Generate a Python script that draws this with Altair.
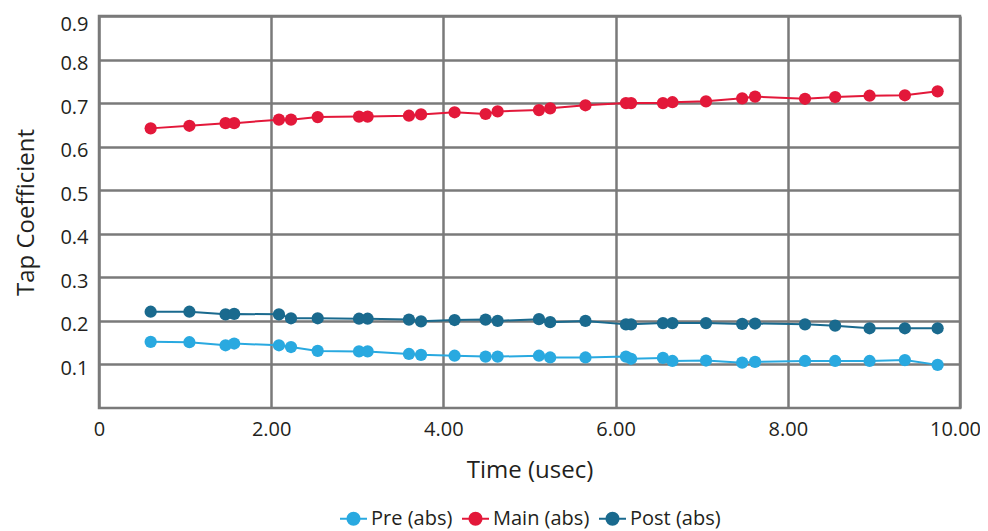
import altair as alt
import pandas as pd

series_names = ["Pre (abs)", "Main (abs)", "Post (abs)"]
series_colors = ["#29a9e0", "#e3183a", "#1a6a8e"]

time_usec = [0.60, 1.05, 1.47, 1.57, 2.09, 2.23, 2.54, 3.02, 3.12, 3.60,
             3.74, 4.13, 4.49, 4.63, 5.11, 5.24, 5.65, 6.12, 6.18, 6.55,
             6.66, 7.05, 7.47, 7.62, 8.20, 8.55, 8.95, 9.36, 9.74]
pre_abs = [0.152, 0.151, 0.144, 0.148, 0.144, 0.140, 0.131, 0.130, 0.130, 0.124,
           0.122, 0.120, 0.118, 0.118, 0.120, 0.116, 0.116, 0.118, 0.113, 0.115,
           0.108, 0.109, 0.104, 0.106, 0.108, 0.108, 0.108, 0.110, 0.099]
main_abs = [0.642, 0.648, 0.654, 0.654, 0.662, 0.662, 0.668, 0.669, 0.669, 0.671,
            0.674, 0.679, 0.675, 0.681, 0.684, 0.688, 0.695, 0.700, 0.700, 0.700,
            0.702, 0.704, 0.711, 0.715, 0.710, 0.714, 0.717, 0.718, 0.727]
post_abs = [0.221, 0.221, 0.215, 0.216, 0.215, 0.206, 0.206, 0.205, 0.205, 0.203,
            0.199, 0.202, 0.203, 0.200, 0.204, 0.197, 0.200, 0.192, 0.192, 0.195,
            0.195, 0.195, 0.193, 0.194, 0.192, 0.189, 0.183, 0.183, 0.183]

x_ticks = [0, 2, 4, 6, 8, 10]
y_ticks = [0.1, 0.2, 0.3, 0.4, 0.5, 0.6, 0.7, 0.8, 0.9]

rows = []
for name, vals in zip(series_names, [pre_abs, main_abs, post_abs]):
    for t, v in zip(time_usec, vals):
        rows.append({"series": name, "time": t, "value": v})
df = pd.DataFrame(rows)

FONT = "Open Sans"
TXT = "#231f20"
GRID = "#7a7a7a"

legend_symbol = ("M-1,0L1,0M0.45,0A0.45,0.45,0,1,1,-0.45,0"
                 "A0.45,0.45,0,1,1,0.45,0Z")

color = alt.Color(
    "series:N",
    scale=alt.Scale(domain=series_names, range=series_colors),
    legend=alt.Legend(
        title=None,
        orient="none",
        direction="horizontal",
        legendX=240,
        legendY=488,
        symbolType=legend_symbol,
        symbolSize=729,
        symbolStrokeWidth=2,
        labelFont=FONT,
        labelFontSize=20,
        labelColor=TXT,
        labelOffset=3,
        columnPadding=5,
    ),
)

x = alt.X(
    "time:Q",
    scale=alt.Scale(domain=[0, 10], nice=False, zero=False),
    axis=alt.Axis(
        values=x_ticks,
        labelExpr="datum.value == 0 ? '0' : format(datum.value, '.2f')",
        title="Time (usec)",
        labelFlush=False,
        labelPadding=11,
        titlePadding=19,
        labelOffset={"condition": {"test": "datum.value == 10", "value": -5}, "value": 0},
    ),
)
y = alt.Y(
    "value:Q",
    scale=alt.Scale(domain=[0, 0.9], nice=False),
    axis=alt.Axis(
        values=y_ticks,
        format=".1f",
        title="Tap Coefficient",
        labelFlush=False,
        labelPadding=11,
        labelOffset={"condition": {"test": "datum.value > 0.85", "value": 8}, "value": 4},
        titlePadding=21,
    ),
)

base = alt.Chart(df).encode(x=x, y=y, color=color)
lines = base.mark_line(strokeWidth=2)
points = base.mark_circle(size=150, opacity=1)

chart = (
    alt.layer(lines, points)
    .properties(
        width=861,
        height=392,
        padding={"left": 91, "top": 8, "right": 20, "bottom": 123},
        autosize=alt.AutoSizeParams(type="none"),
    )
    .configure(font=FONT)
    .configure_view(stroke=GRID, strokeWidth=2.5)
    .configure_axis(
        domain=False,
        ticks=False,
        grid=True,
        gridColor=GRID,
        gridWidth=2.5,
        gridOpacity=1,
        labelFont=FONT,
        labelFontSize=20,
        labelColor=TXT,
        titleFont=FONT,
        titleFontSize=24,
        titleFontWeight="normal",
        titleColor=TXT,
    )
)

chart.save("out.html", embed_options={"renderer": "svg", "actions": False})
